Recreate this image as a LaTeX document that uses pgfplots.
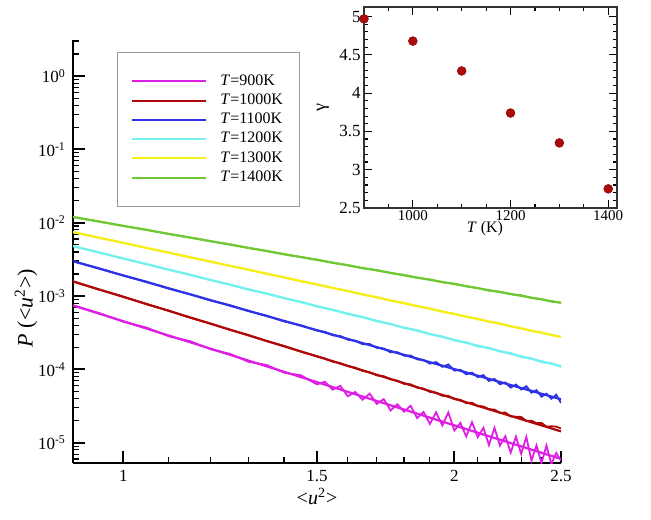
\documentclass[border=0pt]{standalone}
\usepackage{pgfplots}
\pgfplotsset{compat=1.18}
\usepackage{pgfplotstable}
\usepackage{fontspec}
\setmainfont{Liberation Serif}
\definecolor{cMag}{RGB}{222,30,228}
\definecolor{cRed}{RGB}{176,8,8}
\definecolor{cBlue}{RGB}{45,50,230}
\definecolor{cCyan}{RGB}{115,240,240}
\definecolor{cYel}{RGB}{245,238,25}
\definecolor{cGreen}{RGB}{112,200,52}
\definecolor{cDot}{RGB}{172,10,10}

\pgfplotstableread{
x y
0.90 1.197e-2
0.95 1.045e-2
1.00 9.02e-3
1.05 8.05e-3
1.10 7.00e-3
1.15 6.30e-3
1.20 5.61e-3
1.25 5.08e-3
1.30 4.52e-3
1.35 4.14e-3
1.40 3.70e-3
1.45 3.42e-3
1.50 3.15e-3
1.55 2.84e-3
1.60 2.65e-3
1.65 2.39e-3
1.70 2.27e-3
1.75 2.06e-3
1.80 1.94e-3
1.85 1.77e-3
1.90 1.69e-3
1.95 1.54e-3
2.00 1.48e-3
2.05 1.36e-3
2.10 1.29e-3
2.15 1.18e-3
2.20 1.15e-3
2.25 1.06e-3
2.30 1.03e-3
2.35 9.39e-4
2.40 9.11e-4
2.45 8.36e-4
2.50 8.17e-4
}\tGreen

\pgfplotstableread{
x y
0.90 7.46e-3
0.95 6.24e-3
1.00 5.35e-3
1.05 4.51e-3
1.10 3.93e-3
1.15 3.36e-3
1.20 2.97e-3
1.25 2.58e-3
1.30 2.30e-3
1.35 2.01e-3
1.40 1.81e-3
1.45 1.59e-3
1.50 1.45e-3
1.55 1.29e-3
1.60 1.18e-3
1.65 1.05e-3
1.70 9.68e-4
1.75 8.63e-4
1.80 8.09e-4
1.85 7.27e-4
1.90 6.82e-4
1.95 6.11e-4
2.00 5.74e-4
2.05 5.17e-4
2.10 4.93e-4
2.15 4.47e-4
2.20 4.26e-4
2.25 3.84e-4
2.30 3.67e-4
2.35 3.32e-4
2.40 3.21e-4
2.45 2.93e-4
2.50 2.79e-4
}\tYel

\pgfplotstableread{
x y
0.90 4.80e-3
0.95 3.96e-3
1.00 3.23e-3
1.05 2.74e-3
1.10 2.28e-3
1.15 1.97e-3
1.20 1.65e-3
1.25 1.44e-3
1.30 1.22e-3
1.35 1.09e-3
1.40 9.34e-4
1.45 8.40e-4
1.50 7.21e-4
1.55 6.56e-4
1.60 5.70e-4
1.65 5.23e-4
1.70 4.52e-4
1.75 4.18e-4
1.80 3.65e-4
1.85 3.44e-4
1.90 3.01e-4
1.95 2.82e-4
2.00 2.47e-4
2.05 2.34e-4
2.10 2.05e-4
2.15 1.98e-4
2.20 1.75e-4
2.25 1.68e-4
2.30 1.47e-4
2.35 1.42e-4
2.40 1.25e-4
2.45 1.22e-4
2.50 1.08e-4
}\tCyan

\pgfplotstableread{
x y
0.90 2.99e-3
0.95 2.40e-3
1.00 1.90e-3
1.05 1.57e-3
1.10 1.26e-3
1.15 1.06e-3
1.20 8.71e-4
1.25 7.51e-4
1.30 6.23e-4
1.35 5.40e-4
1.40 4.52e-4
1.45 4.00e-4
1.50 3.39e-4
1.525 3.26e-4
1.55 2.92e-4
1.575 2.86e-4
1.60 2.54e-4
1.625 2.47e-4
1.65 2.21e-4
1.675 2.22e-4
1.70 1.97e-4
1.725 1.93e-4
1.75 1.71e-4
1.775 1.72e-4
1.80 1.54e-4
1.825 1.55e-4
1.85 1.37e-4
1.875 1.35e-4
1.90 1.20e-4
1.925 1.26e-4
1.95 1.085e-4
1.975 1.17e-4
2.00 9.63e-5
2.025 9.91e-5
2.05 8.58e-5
2.075 9.04e-5
2.10 7.87e-5
2.125 8.36e-5
2.15 6.96e-5
2.175 7.44e-5
2.20 6.29e-5
2.225 6.65e-5
2.25 5.65e-5
2.275 6.23e-5
2.30 5.33e-5
2.325 5.91e-5
2.35 4.81e-5
2.375 5.22e-5
2.40 4.25e-5
2.425 4.67e-5
2.45 3.98e-5
2.475 4.53e-5
2.50 3.49e-5
}\tBlue

\pgfplotstableread{
x y
0.90 1.585e-3
0.95 1.227e-3
1.00 9.84e-4
1.05 7.75e-4
1.10 6.33e-4
1.15 5.07e-4
1.20 4.23e-4
1.25 3.46e-4
1.30 2.94e-4
1.35 2.43e-4
1.40 2.09e-4
1.45 1.75e-4
1.50 1.51e-4
1.525 1.41e-4
1.55 1.28e-4
1.575 1.22e-4
1.60 1.11e-4
1.625 1.06e-4
1.65 9.57e-5
1.675 9.16e-5
1.70 8.30e-5
1.725 8.09e-5
1.75 7.33e-5
1.775 7.02e-5
1.80 6.36e-5
1.825 6.27e-5
1.85 5.65e-5
1.875 5.48e-5
1.90 4.95e-5
1.925 4.82e-5
1.95 4.37e-5
1.975 4.37e-5
2.00 3.92e-5
2.025 3.86e-5
2.05 3.47e-5
2.075 3.52e-5
2.10 3.15e-5
2.125 3.13e-5
2.15 2.86e-5
2.175 2.84e-5
2.20 2.55e-5
2.225 2.59e-5
2.25 2.28e-5
2.275 2.27e-5
2.30 2.25e-5
2.325 1.98e-5
2.35 2.00e-5
2.375 1.85e-5
2.40 1.87e-5
2.425 1.66e-5
2.45 1.68e-5
2.475 1.66e-5
2.50 1.57e-5
}\tRed

\pgfplotstableread{
x y
0.90 7.46e-4
0.95 5.89e-4
1.00 4.48e-4
1.05 3.71e-4
1.10 2.83e-4
1.15 2.43e-4
1.20 1.89e-4
1.25 1.63e-4
1.30 1.27e-4
1.35 1.15e-4
1.40 9.03e-5
1.45 8.34e-5
1.50 6.26e-5
1.525 6.80e-5
1.55 5.30e-5
1.575 5.98e-5
1.60 4.31e-5
1.625 4.93e-5
1.65 3.86e-5
1.675 4.68e-5
1.70 3.39e-5
1.725 3.94e-5
1.75 2.76e-5
1.775 3.36e-5
1.80 2.65e-5
1.825 3.20e-5
1.85 2.17e-5
1.875 2.63e-5
1.90 1.81e-5
1.925 2.60e-5
1.95 1.73e-5
1.975 2.59e-5
2.00 1.47e-5
2.025 1.87e-5
2.05 1.22e-5
2.075 1.91e-5
2.10 1.19e-5
2.125 1.60e-5
2.15 9.31e-6
2.175 1.60e-5
2.20 9.16e-6
2.225 1.23e-5
2.25 7.34e-6
2.275 1.21e-5
2.30 7.09e-6
2.325 1.20e-5
2.35 5.71e-6
2.375 9.23e-6
2.40 5.29e-6
2.425 9.17e-6
2.45 5.14e-6
2.475 7.25e-6
2.50 5.75e-6
}\tMag

\begin{document}
\begin{tikzpicture}
\begin{axis}[
  name=main,
  scale only axis,
  width=244pt, height=211.5pt,
  at={(0pt,0pt)}, anchor=south west,
  xmode=log, ymode=log,
  xmin=0.9, xmax=2.5,
  ymin=5.3e-6, ymax=3.1,
  axis x line*=bottom, axis y line*=left,
  axis line style={line width=1.2pt},
  tick align=inside,
  major tick length=6pt, minor tick length=3pt,
  every tick/.style={black, line width=1pt},
  minor tick style={line width=0.6pt},
  xtick={1,1.5,2,2.5},
  xticklabels={1,1.5,2,2.5},
  minor xtick={1.1,1.2,1.3,1.4,1.6,1.7,1.8,1.9,2.1,2.2,2.3,2.4},
  ytick={1e-5,1e-4,1e-3,1e-2,1e-1,1},
  yticklabels={10\textsuperscript{-5},10\textsuperscript{-4},10\textsuperscript{-3},10\textsuperscript{-2},10\textsuperscript{-1},10\textsuperscript{0}},
  minor ytick={6e-6,7e-6,8e-6,9e-6,2e-5,3e-5,4e-5,5e-5,6e-5,7e-5,8e-5,9e-5,2e-4,3e-4,4e-4,5e-4,6e-4,7e-4,8e-4,9e-4,2e-3,3e-3,4e-3,5e-3,6e-3,7e-3,8e-3,9e-3,2e-2,3e-2,4e-2,5e-2,6e-2,7e-2,8e-2,9e-2,0.2,0.3,0.4,0.5,0.6,0.7,0.8,0.9,2,3},
  tick label style={font=\fontsize{8.5}{10}\selectfont},
  /pgf/number format/assume math mode=true,
  xlabel={<\textit{u}\textsuperscript{2}>},
  ylabel={\textit{P} (<\textit{u}\textsuperscript{2}>)},
  xlabel style={font=\fontsize{10}{12}\selectfont, at={(axis description cs:0.5,-0.080)}, anchor=center},
  ylabel style={font=\fontsize{11}{13}\selectfont, at={(axis description cs:-0.0963,0.366)}, anchor=center, rotate=0},
  legend style={at={(axis description cs:0.0902,0.9716)}, anchor=north west,
    draw=gray!80, line width=0.5pt, font=\fontsize{8}{9}\selectfont,
    inner xsep=6.5pt, inner ysep=9pt, row sep=-1.2pt},
  legend cell align=left,
  legend image code/.code={\draw[#1, line width=1pt] (0pt,0pt) -- (37pt,0pt); \path (42pt,0pt);},
]
\addplot[cMag, line width=0.9pt] table[x=x,y=y]{\tMag};
\addlegendentry{\textit{T}=900K}
\addplot[cRed, line width=0.9pt] table[x=x,y=y]{\tRed};
\addlegendentry{\textit{T}=1000K}
\addplot[cBlue, line width=0.9pt] table[x=x,y=y]{\tBlue};
\addlegendentry{\textit{T}=1100K}
\addplot[cCyan, line width=0.9pt] table[x=x,y=y]{\tCyan};
\addlegendentry{\textit{T}=1200K}
\addplot[cYel, line width=0.9pt] table[x=x,y=y]{\tYel};
\addlegendentry{\textit{T}=1300K}
\addplot[cGreen, line width=0.9pt] table[x=x,y=y]{\tGreen};
\addlegendentry{\textit{T}=1400K}
\addplot[cMag, line width=1.1pt, forget plot] coordinates {(0.9,7.46e-4) (2.5,6.03e-6)};
\addplot[cRed, line width=1.1pt, forget plot] coordinates {(0.9,1.585e-3) (2.5,1.43e-5)};
\addplot[cBlue, line width=1.1pt, forget plot] coordinates {(0.9,2.99e-3) (2.5,3.92e-5)};
\addplot[cCyan, line width=1.1pt, forget plot] coordinates {(0.9,4.80e-3) (2.5,1.11e-4)};
\addplot[cYel, line width=1.1pt, forget plot] coordinates {(0.9,7.46e-3) (2.5,2.77e-4)};
\addplot[cGreen, line width=1.1pt, forget plot] coordinates {(0.9,1.197e-2) (2.5,8.09e-4)};
\end{axis}

\begin{axis}[
  scale only axis,
  width=126.5pt, height=100.5pt,
  at={(145.5pt,127.5pt)}, anchor=south west,
  axis background/.style={fill=white},
  xmin=900, xmax=1418, ymin=2.5, ymax=5.125,
  xtick={1000,1200,1400},
  minor xtick={950,1050,1100,1150,1250,1300,1350},
  ytick={2.5,3,3.5,4,4.5,5},
  yticklabels={2.5,3,3.5,4,4.5,5},
  minor y tick num=4,
  tick align=inside,
  axis line style={line width=0.8pt, black!80},
  major tick length=4pt, minor tick length=2pt,
  every tick/.style={black, line width=0.6pt},
  xticklabel style={font=\fontsize{7.5}{8}\selectfont, inner ysep=1pt},
  yticklabel style={font=\fontsize{8.5}{9}\selectfont, inner xsep=1.5pt},
  /pgf/number format/assume math mode=true,
  /pgf/number format/1000 sep={},
  xlabel={\textit{T} (K)},
  ylabel={γ},
  xlabel style={font=\fontsize{8}{9}\selectfont, at={(axis description cs:0.478,-0.104)}, anchor=center},
  ylabel style={font=\fontsize{9}{10}\selectfont, at={(axis description cs:-0.162,0.5)}, anchor=center},
]
\addplot[only marks, mark=*, mark size=2.2pt, mark options={fill=cDot, draw=cDot!80!black, line width=0.3pt}]
  coordinates {(900,4.97) (1000,4.68) (1100,4.29) (1200,3.74) (1300,3.35) (1400,2.75)};
\end{axis}
\pgfresetboundingbox
\path (-36.5pt,-28pt) rectangle (289pt,231.5pt);
\end{tikzpicture}
\end{document}
